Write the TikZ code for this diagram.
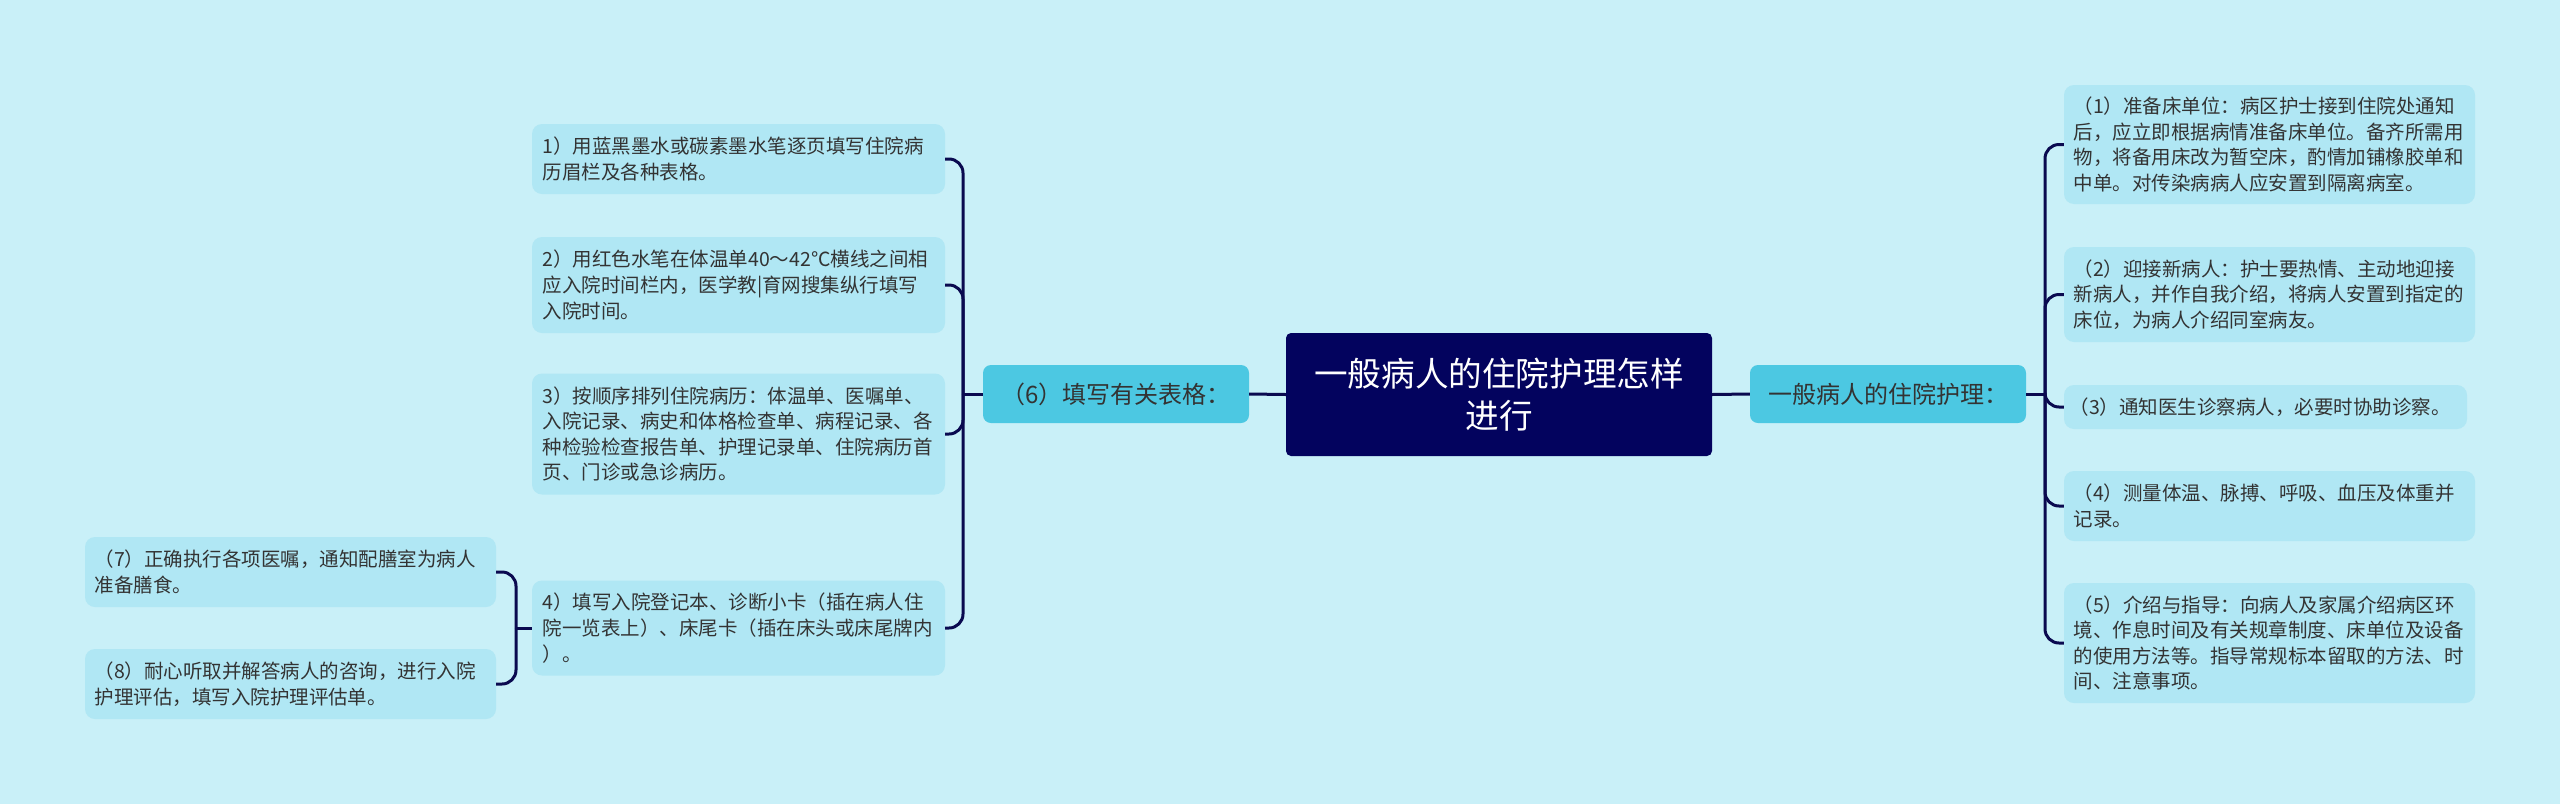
\documentclass[tikz,border=0pt]{standalone}
\usepackage{fontspec}
\setmainfont{Noto Sans CJK SC}
\definecolor{bgc}{HTML}{C9F0F8}
\definecolor{itemc}{HTML}{B0E7F4}
\definecolor{lvlc}{HTML}{4CC8E2}
\definecolor{rootc}{HTML}{03035E}
\definecolor{linec}{HTML}{0A0A50}
\definecolor{textc}{HTML}{333333}
\begin{document}
\begin{tikzpicture}[x=1pt,y=-1pt,
  itembox/.style={draw=none,fill=itemc,rounded corners=10pt,inner sep=0pt,
    text width=392pt,align=left,text=textc,font=\fontsize{19.5}{25.6}\selectfont},
  lvlbox/.style={draw=none,fill=lvlc,rounded corners=8pt,inner sep=0pt,
    align=center,text=textc,font=\fontsize{24}{30}\selectfont},
  rootbox/.style={draw=none,fill=rootc,rounded corners=5pt,inner sep=0pt,
    text width=400pt,align=center,text=white,font=\fontsize{33.6}{42}\selectfont},
  conn/.style={draw=linec,line width=3pt},
  bconn/.style={draw=linec,line width=3pt,rounded corners=14pt}]
\useasboundingbox (0,0) rectangle (2560,804);
\fill[bgc] (0,0) rectangle (2560,804);

% root and level 1
\node[rootbox,minimum width=426pt,minimum height=123pt] (root) at (1499,394.5)
  {一般病人的住院护理怎样\\进行};
\node[lvlbox,minimum width=266pt,minimum height=58pt] (L6) at (1116,394)
  {（6）填写有关表格：};
\node[lvlbox,minimum width=276pt,minimum height=58pt] (R) at (1888,394)
  {一般病人的住院护理：};

% right items
\node[itembox,minimum width=411pt,minimum height=119pt] (r1) at (2269.5,144.5)
  {（1）准备床单位：病区护士接到住院处通知\\后，应立即根据病情准备床单位。备齐所需用\\物，将备用床改为暂空床，酌情加铺橡胶单和\\中单。对传染病病人应安置到隔离病室。};
\node[itembox,minimum width=411pt,minimum height=95pt] (r2) at (2269.5,294.5)
  {（2）迎接新病人：护士要热情、主动地迎接\\新病人，并作自我介绍，将病人安置到指定的\\床位，为病人介绍同室病友。};
\node[itembox,minimum width=403pt,minimum height=44pt] (r3) at (2265.5,407)
  {（3）通知医生诊察病人，必要时协助诊察。};
\node[itembox,minimum width=411pt,minimum height=70pt] (r4) at (2269.5,506)
  {（4）测量体温、脉搏、呼吸、血压及体重并\\记录。};
\node[itembox,minimum width=411pt,minimum height=120pt] (r5) at (2269.5,643)
  {（5）介绍与指导：向病人及家属介绍病区环\\境、作息时间及有关规章制度、床单位及设备\\的使用方法等。指导常规标本留取的方法、时\\间、注意事项。};

% left items
\node[itembox,minimum width=413pt,minimum height=70pt] (l1) at (738.5,159)
  {1）用蓝黑墨水或碳素墨水笔逐页填写住院病\\历眉栏及各种表格。};
\node[itembox,minimum width=413pt,minimum height=96pt] (l2) at (738.5,285)
  {2）用红色水笔在体温单40～42℃横线之间相\\应入院时间栏内，医学教|育网搜集纵行填写\\入院时间。};
\node[itembox,minimum width=413pt,minimum height=121pt] (l3) at (738.5,434)
  {3）按顺序排列住院病历：体温单、医嘱单、\\入院记录、病史和体格检查单、病程记录、各\\种检验检查报告单、护理记录单、住院病历首\\页、门诊或急诊病历。};
\node[itembox,minimum width=413pt,minimum height=95pt] (l4) at (738.5,628)
  {4）填写入院登记本、诊断小卡（插在病人住\\院一览表上）、床尾卡（插在床头或床尾牌内\\）。};

% far left items
\node[itembox,minimum width=411pt,minimum height=70pt] (l7) at (290.5,572)
  {（7）正确执行各项医嘱，通知配膳室为病人\\准备膳食。};
\node[itembox,minimum width=411pt,minimum height=70pt] (l8) at (290.5,684)
  {（8）耐心听取并解答病人的咨询，进行入院\\护理评估，填写入院护理评估单。};

% junction coordinates
\coordinate (jL) at (963,394);
\coordinate (jR) at (2045,394);
\coordinate (j4) at (516,628);

% connectors
\draw[conn] (root.west) -- (L6.east);
\draw[conn] (root.east) -- (R.west);

\draw[conn] (L6.west) -- (jL);
\foreach \c in {l1,l2,l3,l4} \draw[bconn] (jL) |- (\c.east);

\draw[conn] (R.east) -- (jR);
\foreach \c in {r1,r2,r3,r4,r5} \draw[bconn] (jR) |- (\c.west);

\draw[conn] (l4.west) -- (j4);
\foreach \c in {l7,l8} \draw[bconn] (j4) |- (\c.east);
\end{tikzpicture}
\end{document}
